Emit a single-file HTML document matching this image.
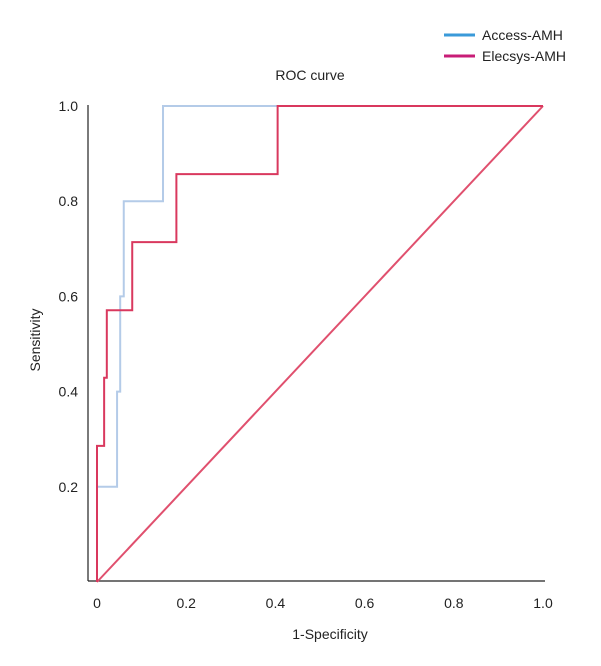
<!DOCTYPE html>
<html><head><meta charset="utf-8"><style>
body{margin:0;background:#fff;}
svg text{font-family:"Liberation Sans",sans-serif;fill:#222;}
</style></head><body>
<svg id="c" width="601" height="661">
<text x="310" y="80" font-size="14" text-anchor="middle">ROC curve</text>
<g>
<line x1="444" y1="35" x2="475" y2="35" stroke="#3a9ad9" stroke-width="3"/>
<text x="482" y="40" font-size="14">Access-AMH</text>
<line x1="444" y1="56" x2="475" y2="56" stroke="#c81d77" stroke-width="3"/>
<text x="482" y="61" font-size="14">Elecsys-AMH</text>
</g>
<line x1="88" y1="105" x2="88" y2="581" stroke="#222" stroke-width="1.2"/>
<line x1="88" y1="581" x2="545" y2="581" stroke="#222" stroke-width="1.2"/>
<text x="40" y="340" font-size="14" text-anchor="middle" transform="rotate(-90 40 340)">Sensitivity</text>
<text x="330" y="639" font-size="14" text-anchor="middle">1-Specificity</text>
<g id="ticks"></g><g id="series"></g>
</svg>
<script>
const xTicks=[0,0.2,0.4,0.6,0.8,1.0];
const xTickLabels=["0","0.2","0.4","0.6","0.8","1.0"];
const yTicks=[0.2,0.4,0.6,0.8,1.0];
const yTickLabels=["0.2","0.4","0.6","0.8","1.0"];
const accessFpr=[0,0,0.045,0.045,0.052,0.052,0.06,0.06,0.148,0.148,1.0];
const accessTpr=[0,0.2,0.2,0.4,0.4,0.6,0.6,0.8,0.8,1.0,1.0];
const elecsysFpr=[0,0,0.016,0.016,0.022,0.022,0.079,0.079,0.178,0.178,0.405,0.405,1.0];
const elecsysTpr=[0,0.286,0.286,0.429,0.429,0.571,0.571,0.714,0.714,0.857,0.857,1.0,1.0];
const diagX=[0,1];
const diagY=[0,1];
const NS="http://www.w3.org/2000/svg";
const sx=v=>97+v*446, sy=v=>582-v*476;
const tk=document.getElementById('ticks');
xTicks.forEach((v,i)=>{const t=document.createElementNS(NS,'text');
t.setAttribute('x',sx(v));t.setAttribute('y',608);t.setAttribute('font-size','14');t.setAttribute('text-anchor','middle');


t.textContent=xTickLabels[i];tk.appendChild(t);});
yTicks.forEach((v,i)=>{const t=document.createElementNS(NS,'text');
t.setAttribute('x',78);t.setAttribute('y',sy(v)+5);t.setAttribute('font-size','14');t.setAttribute('text-anchor','end');


t.textContent=yTickLabels[i];tk.appendChild(t);});
const sr=document.getElementById('series');
function line(xs,ys,color,name){const p=document.createElementNS(NS,'polyline');
p.setAttribute('points',xs.map((x,i)=>sx(x)+','+sy(ys[i])).join(' '));
p.setAttribute('fill','none');p.setAttribute('stroke',color);p.setAttribute('stroke-width','2');


sr.appendChild(p);}
line(accessFpr,accessTpr,'#b4cbe8','access-amh-curve');
line(diagX,diagY,'#e0506e','reference-diagonal');
line(elecsysFpr,elecsysTpr,'#d9385e','elecsys-amh-curve');
</script>
</body></html>
